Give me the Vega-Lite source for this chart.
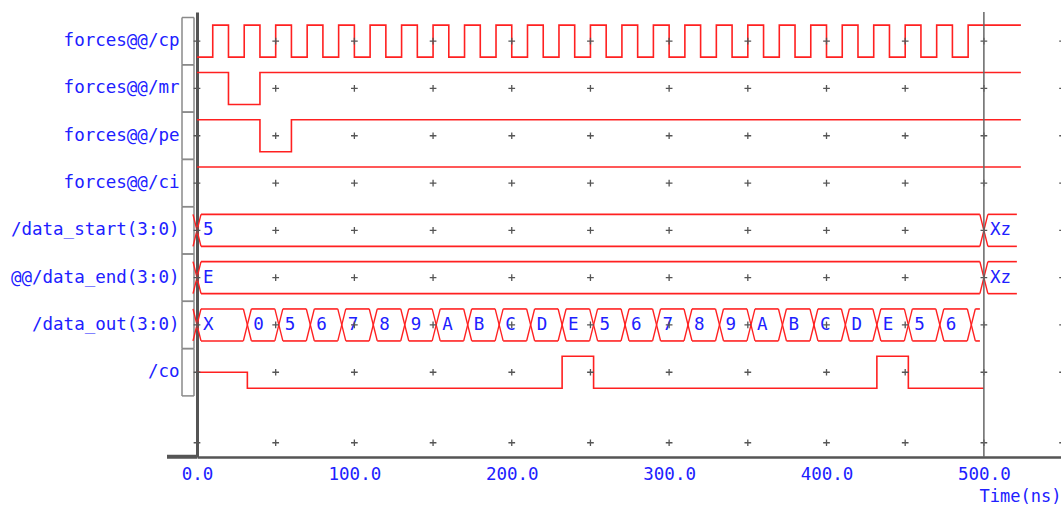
{
  "$schema": "https://vega.github.io/schema/vega-lite/v6.json",
  "width": 864,
  "height": 445,
  "autosize": {"type": "none"},
  "padding": {"left": 197, "top": 12, "right": 0, "bottom": 52},
  "background": "white",
  "config": {"view": {"stroke": null}, "font": "DejaVu Sans Mono"},
  "datasets": {
    "signals": [
      {"signal": "forces@@/cp", "ts": [0,50,100,150,200,250,300,350,400,450,500,550]},
      {"signal": "forces@@/mr", "ts": [0,50,100,150,200,250,300,350,400,450,500,550]},
      {"signal": "forces@@/pe", "ts": [0,50,100,150,200,250,300,350,400,450,500,550]},
      {"signal": "forces@@/ci", "ts": [0,50,100,150,200,250,300,350,400,450,500,550]},
      {"signal": "/data_start(3:0)", "ts": [0,50,100,150,200,250,300,350,400,450,500,550]},
      {"signal": "@@/data_end(3:0)", "ts": [0,50,100,150,200,250,300,350,400,450,500,550]},
      {"signal": "/data_out(3:0)", "ts": [0,50,100,150,200,250,300,350,400,450,500,550]},
      {"signal": "/co", "ts": [0,50,100,150,200,250,300,350,400,450,500,550]}
    ],
    "digital": [
      {"signal": "forces@@/cp",
       "t": [0,10,20,30,40,50,60,70,80,90,100,110,120,130,140,150,160,170,180,190,200,210,220,230,240,250,260,270,280,290,300,310,320,330,340,350,360,370,380,390,400,410,420,430,440,450,460,470,480,490,523.5],
       "level": [0,1,0,1,0,1,0,1,0,1,0,1,0,1,0,1,0,1,0,1,0,1,0,1,0,1,0,1,0,1,0,1,0,1,0,1,0,1,0,1,0,1,0,1,0,1,0,1,0,1,1]},
      {"signal": "forces@@/mr", "t": [0,20,40,523.5], "level": [1,0,1,1]},
      {"signal": "forces@@/pe", "t": [0,40,60,523.5], "level": [1,0,1,1]},
      {"signal": "forces@@/ci", "t": [0,523.5], "level": [1,1]},
      {"signal": "/co", "t": [0,32,232,252,432,452,500], "level": [0.5,0,1,0,1,0,0]}
    ],
    "bus": [
      {"signal": "/data_start(3:0)", "start": [0,500], "end": [500,523.5], "label": ["5","Xz"]},
      {"signal": "@@/data_end(3:0)", "start": [0,500], "end": [500,523.5], "label": ["E","Xz"]},
      {"signal": "/data_out(3:0)",
       "start": [0,32,52,72,92,112,132,152,172,192,212,232,252,272,292,312,332,352,372,392,412,432,452,472,492],
       "end": [32,52,72,92,112,132,152,172,192,212,232,252,272,292,312,332,352,372,392,412,432,452,472,492,500],
       "label": ["X","0","5","6","7","8","9","A","B","C","D","E","5","6","7","8","9","A","B","C","D","E","5","6",""]}
    ],
    "trans": [
      {"signal": "/data_start(3:0)", "t": [0,500]},
      {"signal": "@@/data_end(3:0)", "t": [0,500]},
      {"signal": "/data_out(3:0)", "t": [0,32,52,72,92,112,132,152,172,192,212,232,252,272,292,312,332,352,372,392,412,432,452,472,492]}
    ]
  },
  "layer": [
    {
      "data": {"name": "signals"},
      "mark": {"type": "rule", "stroke": "#8a8a8a", "strokeWidth": 1.5, "xOffset": -15, "x2Offset": -3, "yOffset": -23.65},
      "encoding": {
        "x": {"datum": 0, "type": "quantitative", "scale": {"domain": [0, 549], "nice": false, "zero": false},
              "title": "Time(ns)",
              "axis": {"values": [0,100,200,300,400,500], "format": ".1f", "ticks": false, "grid": false,
                       "domainColor": "#555555", "domainWidth": 2.5, "labelColor": "#2020ff",
                       "labelFont": "DejaVu Sans Mono", "labelFontSize": 17.5, "labelPadding": 8,
                       "labelFlush": false, "labelOverlap": false,
                       "titleAnchor": "end", "titleColor": "#2020ff", "titleFont": "DejaVu Sans Mono",
                       "titleFontSize": 17, "titleFontWeight": "normal", "titlePadding": 6}},
        "x2": {"datum": 0},
        "y": {"field": "signal", "type": "nominal", "title": null,
              "scale": {"type": "band", "domain": ["forces@@/cp","forces@@/mr","forces@@/pe","forces@@/ci","/data_start(3:0)","@@/data_end(3:0)","/data_out(3:0)","/co"],
                        "paddingInner": 0, "paddingOuter": 0.704, "align": 0.0826},
              "axis": {"orient": "left", "ticks": false, "grid": false, "domainColor": "#555555", "domainWidth": 3,
                       "labelColor": "#2020ff", "labelFont": "DejaVu Sans Mono", "labelFontSize": 17.5,
                       "labelPadding": 18, "labelLimit": 0}}
      }
    },
    {
      "data": {"name": "signals"},
      "mark": {"type": "rule", "stroke": "#8a8a8a", "strokeWidth": 1.5, "xOffset": -15, "x2Offset": -3, "yOffset": 23.65},
      "encoding": {
        "x": {"datum": 0, "type": "quantitative"},
        "x2": {"datum": 0},
        "y": {"field": "signal", "type": "nominal", "title": null}
      }
    },
    {
      "data": {"name": "signals"},
      "mark": {"type": "rule", "stroke": "#8a8a8a", "strokeWidth": 1.5, "xOffset": -15, "x2Offset": -15, "yOffset": -23.65, "y2Offset": 23.65},
      "encoding": {
        "x": {"datum": 0, "type": "quantitative"},
        "x2": {"datum": 0},
        "y": {"field": "signal", "type": "nominal", "title": null},
        "y2": {"field": "signal"}
      }
    },
    {
      "data": {"name": "signals"},
      "mark": {"type": "rule", "stroke": "#8a8a8a", "strokeWidth": 1.5, "xOffset": -3, "x2Offset": -3, "yOffset": -23.65, "y2Offset": 23.65},
      "encoding": {
        "x": {"datum": 0, "type": "quantitative"},
        "x2": {"datum": 0},
        "y": {"field": "signal", "type": "nominal", "title": null},
        "y2": {"field": "signal"}
      }
    },
    {
      "data": {"name": "signals"},
      "transform": [{"filter": "datum.signal === '/co'"}],
      "mark": {"type": "rule", "stroke": "#555555", "strokeWidth": 4, "xOffset": -30, "x2Offset": 0, "yOffset": 84.5},
      "encoding": {
        "x": {"datum": 0, "type": "quantitative"},
        "x2": {"datum": 0},
        "y": {"field": "signal", "type": "nominal", "title": null}
      }
    },
    {
      "data": {"name": "digital"},
      "transform": [{"flatten": ["t", "level"]}],
      "mark": {"type": "line", "interpolate": "step-after", "color": "#ff2020", "strokeWidth": 1.6},
      "encoding": {
        "x": {"field": "t", "type": "quantitative", "title": "Time(ns)"},
        "y": {"field": "signal", "type": "nominal", "title": null},
        "yOffset": {"field": "level", "type": "quantitative", "scale": {"domain": [0, 1], "range": [39.65, 7.65], "zero": false, "nice": false}},
        "detail": {"field": "signal"},
        "order": {"field": "t", "type": "quantitative"}
      }
    },
    {
      "data": {"name": "bus"},
      "transform": [{"flatten": ["start", "end", "label"]}],
      "mark": {"type": "rule", "color": "#ff2020", "strokeWidth": 1.6, "xOffset": 4, "x2Offset": -4, "yOffset": -16},
      "encoding": {
        "x": {"field": "start", "type": "quantitative", "title": "Time(ns)"},
        "x2": {"field": "end"},
        "y": {"field": "signal", "type": "nominal", "title": null}
      }
    },
    {
      "data": {"name": "bus"},
      "transform": [{"flatten": ["start", "end", "label"]}],
      "mark": {"type": "rule", "color": "#ff2020", "strokeWidth": 1.6, "xOffset": 4, "x2Offset": -4, "yOffset": 16},
      "encoding": {
        "x": {"field": "start", "type": "quantitative", "title": "Time(ns)"},
        "x2": {"field": "end"},
        "y": {"field": "signal", "type": "nominal", "title": null}
      }
    },
    {
      "data": {"name": "trans"},
      "transform": [{"flatten": ["t"]}],
      "mark": {"type": "rule", "color": "#ff2020", "strokeWidth": 1.4, "xOffset": -4, "x2Offset": 4, "yOffset": -16, "y2Offset": 16},
      "encoding": {
        "x": {"field": "t", "type": "quantitative", "title": "Time(ns)"},
        "x2": {"field": "t"},
        "y": {"field": "signal", "type": "nominal", "title": null},
        "y2": {"field": "signal"}
      }
    },
    {
      "data": {"name": "trans"},
      "transform": [{"flatten": ["t"]}],
      "mark": {"type": "rule", "color": "#ff2020", "strokeWidth": 1.4, "xOffset": -4, "x2Offset": 4, "yOffset": 16, "y2Offset": -16},
      "encoding": {
        "x": {"field": "t", "type": "quantitative", "title": "Time(ns)"},
        "x2": {"field": "t"},
        "y": {"field": "signal", "type": "nominal", "title": null},
        "y2": {"field": "signal"}
      }
    },
    {
      "data": {"name": "bus"},
      "transform": [{"flatten": ["start", "end", "label"]}],
      "mark": {"type": "text", "align": "left", "baseline": "middle", "dx": 6, "font": "DejaVu Sans Mono", "fontSize": 17.5, "color": "#2020ff"},
      "encoding": {
        "x": {"field": "start", "type": "quantitative", "title": "Time(ns)"},
        "y": {"field": "signal", "type": "nominal", "title": null},
        "text": {"field": "label"}
      }
    },
    {
      "data": {"name": "signals"},
      "transform": [{"flatten": ["ts"]}],
      "mark": {"type": "point", "shape": "M-1,0L1,0M0,-1L0,1", "size": 45, "filled": false, "stroke": "#555555", "strokeWidth": 1.3, "opacity": 1},
      "encoding": {
        "x": {"field": "ts", "type": "quantitative", "title": "Time(ns)"},
        "y": {"field": "signal", "type": "nominal", "title": null}
      }
    },
    {
      "data": {"name": "signals"},
      "transform": [{"filter": "datum.signal === '/co'"}, {"flatten": ["ts"]}],
      "mark": {"type": "point", "shape": "M-1,0L1,0M0,-1L0,1", "size": 45, "filled": false, "stroke": "#555555", "strokeWidth": 1.3, "opacity": 1, "yOffset": 70.5},
      "encoding": {
        "x": {"field": "ts", "type": "quantitative", "title": "Time(ns)"},
        "y": {"field": "signal", "type": "nominal", "title": null}
      }
    },
    {
      "data": {"values": [{"cursor": 500}]},
      "mark": {"type": "rule", "color": "#666666", "strokeWidth": 1.5},
      "encoding": {
        "x": {"field": "cursor", "type": "quantitative", "title": "Time(ns)"}
      }
    }
  ]
}
